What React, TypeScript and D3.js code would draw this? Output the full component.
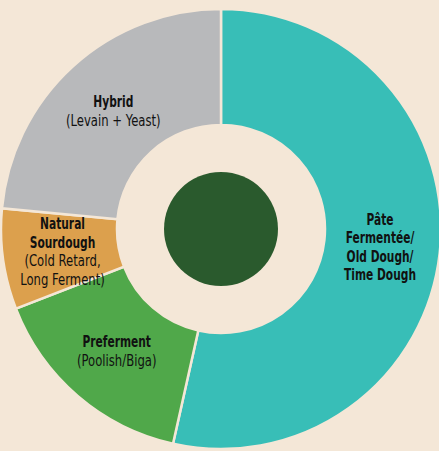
import * as React from "react";
import * as d3 from "d3";

// slice data, clockwise from 12 o'clock
const categories = ["pate", "preferment", "sourdough", "hybrid"];
const shares = [53.5, 15.6, 7.4, 23.5];
const titleLines = [
  ["Pâte", "Fermentée/", "Old Dough/", "Time Dough"],
  ["Preferment"],
  ["Natural", "Sourdough"],
  ["Hybrid"],
];
const noteLines = [
  [],
  ["(Poolish/Biga)"],
  ["(Cold Retard,", "Long Ferment)"],
  ["(Levain + Yeast)"],
];
const colors = ["#38beb7", "#50a84a", "#dca04d", "#b8b9bb"];

const W = 439, H = 451;
const cx = 221, cy = 229;
const outerR = 220, innerR = 104, coreR = 57, labelR = 160;
const bg = "#f4e7d7";
const lineH = 18.5;
const fontSize = 15.8;
const font = "'DejaVu Sans Condensed', 'DejaVu Sans', sans-serif";

export default function App() {
  const pie = d3.pie<number>().sort(null).value(d => d);
  const arcs = pie(shares);
  const arc = d3.arc<d3.PieArcDatum<number>>().innerRadius(innerR).outerRadius(outerR);
  const labelArc = d3.arc<d3.PieArcDatum<number>>().innerRadius(labelR).outerRadius(labelR);

  return (
    <svg width={W} height={H} style={{position: "absolute", left: 0, top: 0}}>
      <rect width={W} height={H} fill={bg}/>
      <g transform={`translate(${cx},${cy})`}>
        {arcs.map((a, i) => (
          <path key={categories[i]} d={arc(a) || ""} fill={colors[i]} stroke={bg} strokeWidth={2.5}/>
        ))}
        <circle r={coreR} fill="#2a5a2d"/>
        {arcs.map((a, i) => {
          const [lx, ly] = labelArc.centroid(a);
          const lines = [
            ...titleLines[i].map(t => ({t, bold: true})),
            ...noteLines[i].map(t => ({t, bold: false})),
          ];
          const y0 = ly - ((lines.length - 1) * lineH) / 2;
          return (
            <g key={categories[i]}>
              {lines.map((l, j) => (
                <text key={j} textAnchor="middle" fontFamily={font} fontSize={fontSize} fill="#111"
                  fontWeight={l.bold ? 700 : 400}
                  transform={`translate(${lx},${y0 + j * lineH + 6}) scale(${l.bold ? 0.75 : 0.82},1)`}>
                  {l.t}
                </text>
              ))}
            </g>
          );
        })}
      </g>
    </svg>
  );
}
